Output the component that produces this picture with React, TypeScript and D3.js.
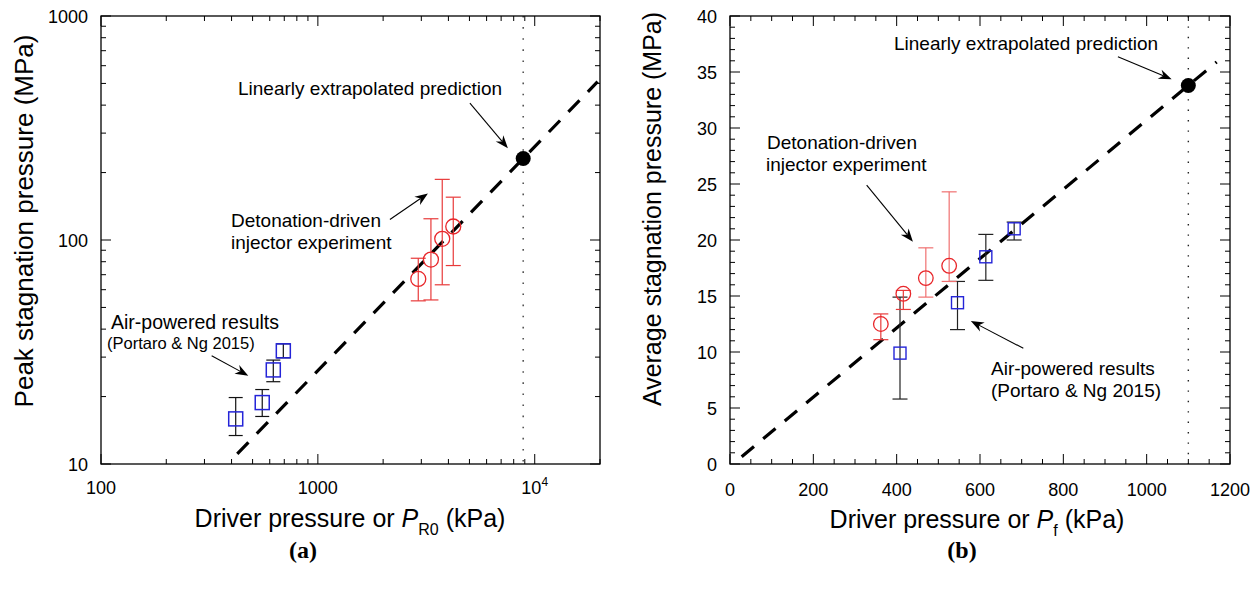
import React from 'react'
import * as d3 from 'd3'

const W = 1256
const H = 590
const FONT = '"Liberation Sans", Arial, sans-serif'

// (a) peak stagnation pressure (MPa) vs driver pressure or P_R0 (kPa)
const airDriverA = [418, 554, 623, 693]
const airPeak = [15.9, 18.8, 26.3, 32.0]
const airPeakLo = [13.4, 16.3, 23.3, 29.8]
const airPeakHi = [19.8, 21.5, 29.1, 34.4]
const detPR0 = [2904, 3322, 3746, 4211]
const detPeak = [67.0, 81.8, 101.2, 114.9]
const detPeakLo = [53.5, 54.0, 63.1, 76.9]
const detPeakHi = [82.9, 124.4, 186.5, 155.3]
const predPR0 = 8850
const predPeak = 231
const fitPR0 = [425, 19500]
const fitPeak = [11.1, 509]

// (b) average stagnation pressure (MPa) vs driver pressure or P_f (kPa)
const airDriverB = [408, 546, 614, 682]
const airAvg = [9.9, 14.4, 18.5, 21.0]
const airAvgLo = [5.8, 12.0, 16.4, 20.0]
const airAvgHi = [14.9, 16.3, 20.5, 21.6]
const detPf = [362, 416, 470, 526]
const detAvg = [12.5, 15.2, 16.6, 17.7]
const detAvgLo = [11.1, 13.8, 14.9, 16.3]
const detAvgHi = [13.4, 15.5, 19.3, 24.3]
const predPf = 1100
const predAvg = 33.8
const fitPf = [28, 1168]
const fitAvg = [0.65, 35.9]

// ticks
const xMajorA = [100, 1000, 10000]
const xLabelsA = ['100', '1000', '10^4']
const yMajorA = [10, 100, 1000]
const xMajorB = [0, 200, 400, 600, 800, 1000, 1200]
const yMajorB = [0, 5, 10, 15, 20, 25, 30, 35, 40]

const logMinor = (lo: number, hi: number) => {
  const out: number[] = []
  for (let d = lo; d < hi; d *= 10) for (let k = 2; k <= 9; k++) if (d * k <= hi) out.push(d * k)
  return out
}

const red = '#e8262a'
const redBar = '#e83a3a'
const redBarPale = '#f07070'
const blue = '#2424d8'

function Arrow({ x1, y1, x2, y2 }: any) {
  const a = Math.atan2(y2 - y1, x2 - x1)
  const L = 13, hw = 5, notch = 9
  const rot = ([u, v]: number[]) => [x2 + u * Math.cos(a) - v * Math.sin(a), y2 + u * Math.sin(a) + v * Math.cos(a)]
  const pts = [[0, 0], [-L, -hw], [-notch, 0], [-L, hw]].map(rot)
  const end = rot([-notch, 0])
  return (
    <g>
      <line x1={x1} y1={y1} x2={end[0]} y2={end[1]} stroke="#000" strokeWidth={1.1} />
      <polygon points={pts.map(p => p.join(',')).join(' ')} fill="#000" />
    </g>
  )
}

function Frame({ x, y, xMajor, xMinor, yMajor, yMinor }: any) {
  const [l, r] = x.range()
  const [b, t] = y.range()
  const segs: number[][] = []
  const M = 10, m = 5
  xMajor.forEach((v: number) => { const p = x(v); segs.push([p, b, p, b - M], [p, t, p, t + M]) })
  xMinor.forEach((v: number) => { const p = x(v); segs.push([p, b, p, b - m], [p, t, p, t + m]) })
  yMajor.forEach((v: number) => { const p = y(v); segs.push([l, p, l + M, p], [r, p, r - M, p]) })
  yMinor.forEach((v: number) => { const p = y(v); segs.push([l, p, l + m, p], [r, p, r - m, p]) })
  return (
    <g>
      {segs.map((s, i) => <line key={i} x1={s[0]} y1={s[1]} x2={s[2]} y2={s[3]} stroke="#000" strokeWidth={1} />)}
      <rect x={l} y={t} width={r - l} height={b - t} fill="none" stroke="#000" strokeWidth={1.3} />
    </g>
  )
}

function ErrBars({ x, y, xs, lo, hi, color, cap }: any) {
  return (
    <g strokeWidth={1.2}>
      {xs.map((v: number, i: number) => {
        const px = x(v)
        const c = Array.isArray(color) ? color[i] : color
        return (
          <g key={i} stroke={c}>
            <line x1={px} x2={px} y1={y(lo[i])} y2={y(hi[i])} />
            <line x1={px - cap / 2} x2={px + cap / 2} y1={y(lo[i])} y2={y(lo[i])} />
            <line x1={px - cap / 2} x2={px + cap / 2} y1={y(hi[i])} y2={y(hi[i])} />
          </g>
        )
      })}
    </g>
  )
}

function PanelA() {
  const x = d3.scaleLog().domain([100, 20000]).range([101, 600])
  const y = d3.scaleLog().domain([10, 1000]).range([464, 16])
  const fit = d3.line<number>().x(d => x(d)).y((d, i) => y(fitPeak[i]))
  const t = { fontFamily: FONT, fontSize: 19 }
  return (
    <g>
      <line x1={x(predPR0)} x2={x(predPR0)} y1={16} y2={464} stroke="#555" strokeWidth={1.6} strokeDasharray="1.6 9.5" />
      <path d={fit(fitPR0) || ''} stroke="#000" strokeWidth={3.2} strokeDasharray="16 12" fill="none" />
      <ErrBars x={x} y={y} xs={airDriverA} lo={airPeakLo} hi={airPeakHi} color="#111" cap={14} />
      {airDriverA.map((v, i) => (
        <rect key={i} x={x(v) - 7} y={y(airPeak[i]) - 7} width={14} height={14} fill="none" stroke={blue} strokeWidth={1.5} />
      ))}
      <ErrBars x={x} y={y} xs={detPR0} lo={detPeakLo} hi={detPeakHi} color={redBar} cap={15} />
      {detPR0.map((v, i) => (
        <circle key={i} cx={x(v)} cy={y(detPeak[i])} r={7.5} fill="none" stroke={red} strokeWidth={1.3} />
      ))}
      <circle cx={x(predPR0)} cy={y(predPeak)} r={7.5} fill="#000" />
      <Frame x={x} y={y} xMajor={xMajorA} xMinor={logMinor(100, 20000)} yMajor={yMajorA} yMinor={logMinor(10, 1000)} />
      {xMajorA.map((v, i) => (
        <text key={i} x={x(v)} y={494} textAnchor="middle" fontFamily={FONT} fontSize={18}>
          {xLabelsA[i].includes('^') ? <>10<tspan dy={-8} fontSize={12}>4</tspan></> : xLabelsA[i]}
        </text>
      ))}
      {yMajorA.map((v, i) => (
        <text key={i} x={88} y={y(v) + 6.5} textAnchor="end" fontFamily={FONT} fontSize={18}>{v}</text>
      ))}
      <text transform="translate(33,221) rotate(-90)" textAnchor="middle" fontFamily={FONT} fontSize={26}>Peak stagnation pressure (MPa)</text>
      <text x={350} y={527} textAnchor="middle" fontFamily={FONT} fontSize={25}>
        Driver pressure or <tspan fontStyle="italic">P</tspan><tspan fontSize={16} dy={8}>R0</tspan><tspan dy={-8}> (kPa)</tspan>
      </text>
      <text x={238} y={95} {...t}>Linearly extrapolated prediction</text>
      <Arrow x1={x(5025)} y1={y(408)} x2={x(7522)} y2={y(256.7)} />
      <text x={231} y={227} {...t}>Detonation-driven</text>
      <text x={231} y={249} {...t}>injector experiment</text>
      <Arrow x1={x(2149)} y1={y(123.5)} x2={x(3218)} y2={y(161.4)} />
      <text x={111} y={329} fontFamily={FONT} fontSize={19.5}>Air-powered results</text>
      <text x={107} y={349} fontFamily={FONT} fontSize={16.5}>(Portaro &amp; Ng 2015)</text>
      <Arrow x1={x(323.8)} y1={y(30.4)} x2={x(477.7)} y2={y(24.8)} />
      <text x={303} y={558} textAnchor="middle" fontFamily='"Liberation Serif", "Times New Roman", serif' fontWeight="bold" fontSize={24}>(a)</text>
    </g>
  )
}

function PanelB() {
  const x = d3.scaleLinear().domain([0, 1200]).range([730, 1230])
  const y = d3.scaleLinear().domain([0, 40]).range([464, 16])
  const fit = d3.line<number>().x(d => x(d)).y((d, i) => y(fitAvg[i]))
  const t = { fontFamily: FONT, fontSize: 19 }
  const xMinor = d3.range(50, 1200, 50).filter(v => v % 200 !== 0)
  const yMinor = d3.range(1, 40, 1).filter(v => v % 5 !== 0)
  return (
    <g>
      <line x1={x(predPf)} x2={x(predPf)} y1={16} y2={464} stroke="#222" strokeWidth={1.4} strokeDasharray="1.4 9" />
      <path d={fit(fitPf) || ''} stroke="#000" strokeWidth={3.2} strokeDasharray="16 12" fill="none" />
      <ErrBars x={x} y={y} xs={airDriverB} lo={airAvgLo} hi={airAvgHi} color="#222" cap={15} />
      {airDriverB.map((v, i) => (
        <rect key={i} x={x(v) - 6} y={y(airAvg[i]) - 6} width={12} height={12} fill="none" stroke={blue} strokeWidth={1.4} />
      ))}
      <ErrBars x={x} y={y} xs={detPf} lo={detAvgLo} hi={detAvgHi} color={[redBar, redBar, redBarPale, redBarPale]} cap={15} />
      {detPf.map((v, i) => (
        <circle key={i} cx={x(v)} cy={y(detAvg[i])} r={7.3} fill="none" stroke={red} strokeWidth={1.3} />
      ))}
      <circle cx={x(predPf)} cy={y(predAvg)} r={7.5} fill="#000" />
      <Frame x={x} y={y} xMajor={xMajorB} xMinor={xMinor} yMajor={yMajorB} yMinor={yMinor} />
      {xMajorB.map((v, i) => (
        <text key={i} x={x(v)} y={496} textAnchor="middle" fontFamily={FONT} fontSize={18}>{v}</text>
      ))}
      {yMajorB.map((v, i) => (
        <text key={i} x={717} y={y(v) + 6.5} textAnchor="end" fontFamily={FONT} fontSize={18}>{v}</text>
      ))}
      <text transform="translate(661,209) rotate(-90)" textAnchor="middle" fontFamily={FONT} fontSize={25}>Average stagnation pressure (MPa)</text>
      <text x={977} y={528} textAnchor="middle" fontFamily={FONT} fontSize={25}>
        Driver pressure or <tspan fontStyle="italic">P</tspan><tspan fontSize={16} dy={8}>f</tspan><tspan dy={-8}> (kPa)</tspan>
      </text>
      <text x={894} y={50} {...t}>Linearly extrapolated prediction</text>
      <Arrow x1={x(931)} y1={y(36.37)} x2={x(1060)} y2={y(34.35)} />
      <text x={767} y={149} {...t}>Detonation-driven</text>
      <text x={766} y={171} {...t}>injector experiment</text>
      <Arrow x1={x(328)} y1={y(24.9)} x2={x(439)} y2={y(19.85)} />
      <text x={991} y={375} {...t}>Air-powered results</text>
      <text x={991} y={397} {...t}>(Portaro &amp; Ng 2015)</text>
      <Arrow x1={x(704)} y1={y(10.33)} x2={x(578)} y2={y(12.77)} />
      <text x={962} y={558} textAnchor="middle" fontFamily='"Liberation Serif", "Times New Roman", serif' fontWeight="bold" fontSize={24}>(b)</text>
    </g>
  )
}

export default function App() {
  return (
    <svg width={W} height={H} style={{ position: 'absolute', left: 0, top: 0, background: '#fff' }}>
      <rect width={W} height={H} fill="#fff" />
      <PanelA />
      <PanelB />
    </svg>
  )
}
